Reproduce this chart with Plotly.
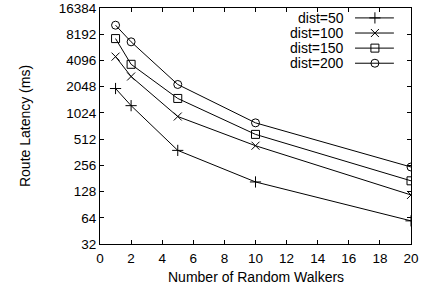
import plotly.graph_objects as go

walkers = [1, 2, 5, 10, 20]
dist50 = [1950, 1240, 380, 165, 59]
dist100 = [4530, 2680, 930, 430, 117]
dist150 = [7300, 3700, 1500, 580, 170]
dist200 = [10400, 6700, 2170, 787, 245]

series_names = ["dist=50", "dist=100", "dist=150", "dist=200"]
series_values = [dist50, dist100, dist150, dist200]
symbols = ["cross-thin-open", "x-thin-open", "square-open", "circle-open"]

y_ticks = [32, 64, 128, 256, 512, 1024, 2048, 4096, 8192, 16384]
x_ticks = list(range(0, 21, 2))

FONT = "Liberation Sans, Arial, sans-serif"
FS = 14
TFS = 13.5

fig = go.Figure()
for name, vals, sym in zip(series_names, series_values, symbols):
    fig.add_trace(go.Scatter(
        x=walkers, y=vals, name=name, mode="lines+markers",
        line=dict(color="black", width=1),
        marker=dict(symbol=sym, size=8, color="black",
                    line=dict(color="black", width=1)),
        showlegend=False,
    ))

# custom gnuplot-style legend (text left, sample right)
leg_text_x = 0.79
leg_line_x0, leg_line_x1 = 0.820, 0.945
leg_mark_x = 0.884
leg_rows = [0.958, 0.894, 0.830, 0.766]
for name, sym, ly in zip(series_names, symbols, leg_rows):
    fig.add_annotation(x=leg_text_x, y=ly, xref="paper", yref="paper",
                       text=name, showarrow=False, xanchor="right",
                       yanchor="middle", font=dict(family=FONT, size=FS, color="black"))
    fig.add_shape(type="line", xref="paper", yref="paper",
                  x0=leg_line_x0, x1=leg_line_x1, y0=ly, y1=ly,
                  line=dict(color="black", width=1))
    fig.add_trace(go.Scatter(
        x=[leg_mark_x], y=[ly], xaxis="x2", yaxis="y2", mode="markers",
        marker=dict(symbol=sym, size=8, color="black",
                    line=dict(color="black", width=1)),
        showlegend=False, hoverinfo="skip",
    ))

# axis titles
fig.add_annotation(x=0.5, y=-0.14, xref="paper", yref="paper",
                   text="Number of Random Walkers", showarrow=False,
                   xanchor="center", yanchor="middle",
                   font=dict(family=FONT, size=FS, color="black"))
fig.add_annotation(x=-0.241, y=0.5, xref="paper", yref="paper",
                   text="Route Latency (ms)", showarrow=False, textangle=-90,
                   xanchor="center", yanchor="middle",
                   font=dict(family=FONT, size=FS, color="black"))

axis_common = dict(
    showline=True, linecolor="black", linewidth=1, mirror="allticks",
    ticks="inside", ticklen=4, tickcolor="black", tickwidth=1,
    showgrid=False, zeroline=False, ticklabeloverflow="allow",
    tickfont=dict(family=FONT, size=TFS, color="black"),
)

fig.update_layout(
    width=437, height=295,
    margin=dict(l=100, r=26, t=8, b=51, autoexpand=False),
    paper_bgcolor="white", plot_bgcolor="white",
    font=dict(family=FONT, size=FS, color="black"),
    xaxis=dict(range=[0, 20], tickvals=x_ticks, ticklabelstandoff=2,
               **axis_common),
    yaxis=dict(type="log", range=[1.5051, 4.2145], tickvals=y_ticks,
               ticktext=[str(v) for v in y_ticks],
               **axis_common),
    xaxis2=dict(overlaying="x", range=[0, 1], visible=False),
    yaxis2=dict(overlaying="y", range=[0, 1], visible=False),
)

fig.write_html("out.html", config={"displayModeBar": False},
               post_script="document.body.style.margin='0';document.body.style.padding='0';")
